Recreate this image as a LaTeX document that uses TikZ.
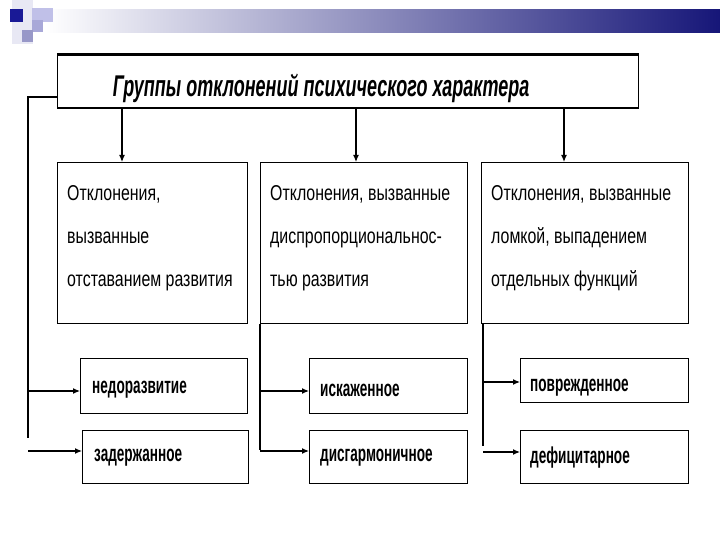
\documentclass[tikz,border=0pt]{standalone}
\usepackage{fontspec}
\setmainfont{Liberation Sans}
\newfontfamily\titlef[FakeStretch=0.6]{Liberation Sans}
\newfontfamily\narrowf[FakeStretch=0.74]{Liberation Sans}
\newfontfamily\smallf[FakeStretch=0.59]{Liberation Sans}
\usetikzlibrary{arrows.meta}
\definecolor{navyb}{RGB}{22,22,120}
\definecolor{darksq}{RGB}{25,25,150}
\definecolor{midgray}{RGB}{184,184,200}
\definecolor{sqa}{RGB}{232,232,244}
\definecolor{sqb}{RGB}{192,192,232}
\definecolor{sqc}{RGB}{168,168,216}
\definecolor{sqd}{RGB}{152,152,200}
\tikzset{
  bigbox/.style={draw, line width=1.3pt, minimum width=#1, minimum height=161pt, inner sep=0pt, anchor=north west},
  smallbox/.style={draw, line width=1.3pt, minimum width=#1, inner sep=0pt, anchor=north west},
  btxt/.style={anchor=north west, align=left, inner sep=0pt, font=\narrowf\fontsize{21.5}{43}\selectfont},
  stxt/.style={anchor=west, inner sep=0pt, font=\smallf\bfseries\fontsize{23}{26}\selectfont},
  arr/.style={line width=1.2pt, -{Latex[length=7pt,width=6pt]}},
  ln/.style={line width=1.2pt}
}
\begin{document}
\begin{tikzpicture}[x=1pt,y=-1pt]
\useasboundingbox (0,0) rectangle (720,540);
% decoration
\fill[white] (0,0) rectangle (720,540);
\shade[left color=white, middle color=midgray, right color=navyb] (45,10) rectangle (720,33);
\fill[sqa] (12,0) rectangle (33,44);
\fill[sqb] (32,8) rectangle (53,22);
\fill[sqc] (32,20) rectangle (43,32);
\fill[sqd] (22,30) rectangle (33,42);
\fill[darksq] (10,9) rectangle (23,22);
% title
\node[draw, line width=1.2pt, minimum width=581pt, minimum height=52pt, inner sep=0pt, anchor=north west] (title) at (57,55) {};
\draw[line width=3pt] (title.north west) -- (title.north east);
\draw[line width=2.6pt] (title.south west) -- (title.south east);
\node[inner sep=0pt, font=\titlef\bfseries\itshape\fontsize{30}{32}\selectfont] (tt) at (321,88) {Группы отклонений психического характера};
% big boxes
\node[bigbox=190pt] (b1) at (57,162) {};
\node[bigbox=207pt] (b2) at (260,162) {};
\node[bigbox=207pt] (b3) at (481,162) {};
\node[btxt] (t1) at (67,185) {Отклонения,\\вызванные\\отставанием развития};
\node[btxt] (t2) at (270,185) {Отклонения, вызванные\\диспропорциональнос-\\тью развития};
\node[btxt] (t3) at (491,185) {Отклонения, вызванные\\ломкой, выпадением\\отдельных функций};
% small boxes
\node[smallbox=167pt, minimum height=55pt] (s11) at (80,358) {};
\node[smallbox=166pt, minimum height=53pt] (s12) at (82,430) {};
\node[smallbox=158pt, minimum height=55pt] (s21) at (309,358) {};
\node[smallbox=158pt, minimum height=53pt] (s22) at (309,430) {};
\node[smallbox=168pt, minimum height=44pt] (s31) at (520,358) {};
\node[smallbox=168pt, minimum height=53pt] (s32) at (520,430) {};
\node[stxt] (l11) at (92,390) {недоразвитие};
\node[stxt] (l12) at (94,458) {задержанное};
\node[stxt] (l21) at (320,390) {искаженное};
\node[stxt] (l22) at (320,458) {дисгармоничное};
\node[stxt] (l31) at (530,388) {поврежденное};
\node[stxt] (l32) at (530,458) {дефицитарное};
% connectors from title
\draw[arr] (title.south west -| 122,0) -- (b1.north west -| 122,0);
\draw[arr] (title.south west -| 356,0) -- (b2.north west -| 356,0);
\draw[arr] (title.south west -| 564,0) -- (b3.north west -| 564,0);
% left column
\coordinate (c1top) at (28,97);
\coordinate (c1bot) at (28,438);
\draw[ln] (title.west |- c1top) -- (c1top) -- (c1bot);
\coordinate (a11) at (28,391);
\coordinate (a12) at (28,451);
\draw[arr] (a11) -- (s11.west |- a11);
\draw[arr] (a12) -- (s12.west |- a12);
% middle column
\coordinate (c2bot) at (260,450);
\draw[ln] (b2.south west) -- (c2bot);
\coordinate (a21) at (260,391);
\coordinate (a22) at (260,451);
\draw[arr] (a21) -- (s21.west |- a21);
\draw[arr] (a22) -- (s22.west |- a22);
% right column
\coordinate (c3top) at (483,323);
\coordinate (c3bot) at (483,446);
\draw[ln] (c3top) -- (c3bot);
\coordinate (a31) at (483,382);
\coordinate (a32) at (483,452);
\draw[arr] (a31) -- (s31.west |- a31);
\draw[arr] (a32) -- (s32.west |- a32);
\end{tikzpicture}
\end{document}
